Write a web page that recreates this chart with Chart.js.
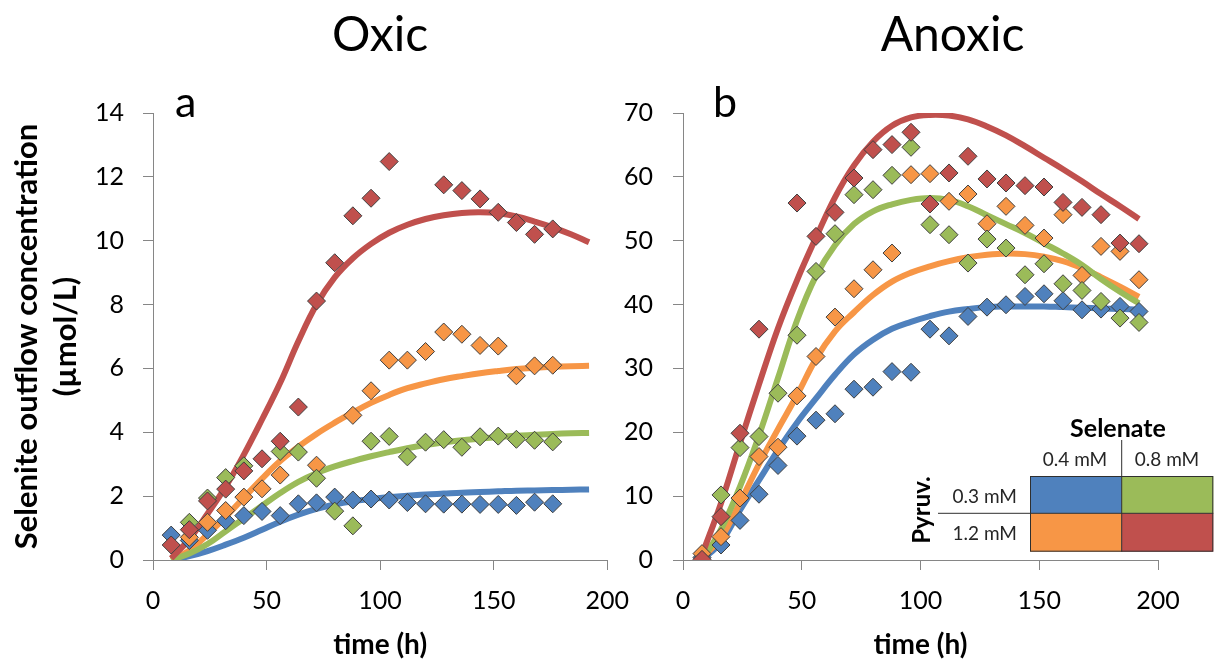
<!DOCTYPE html>
<html>
<head>
<meta charset="utf-8">
<script src="https://cdn.jsdelivr.net/npm/chart.js@4.4.0/dist/chart.umd.min.js"></script>
<style>
  body { margin: 0; background: #fff; width: 1217px; height: 660px; overflow: hidden; position: relative; }
  #oxic { position: absolute; left: 0; top: 0; }
  #anoxic { position: absolute; left: 600px; top: 0; }
</style>
</head>
<body>
<canvas id="oxic" width="645" height="660"></canvas>
<canvas id="anoxic" width="617" height="660"></canvas>
<script>
// sampling times (h)
const tOxic = [8, 16, 24, 32, 40, 48, 56, 64, 72, 80, 88, 96, 104, 112, 120, 128, 136, 144, 152, 160, 168, 176]
const tAnoxic = [8, 16, 24, 32, 40, 48, 56, 64, 72, 80, 88, 96, 104, 112, 120, 128, 136, 144, 152, 160, 168, 176, 184, 192]
const tFit = [8, 16, 24, 32, 40, 48, 56, 64, 72, 80, 88, 96, 104, 112, 120, 128, 136, 144, 152, 160, 168, 176, 184, 192]

// Oxic measurements (µmol/L)
const blueOx   = [0.78, 0.61, 0.93, 1.23, 1.39, 1.52, 1.39, 1.76, 1.79, 1.97, 1.88, 1.91, 1.88, 1.80, 1.76, 1.75, 1.75, 1.74, 1.74, 1.71, 1.81, 1.76]
const orangeOx = [null, 0.71, 1.18, 1.55, 1.97, 2.23, 2.66, null, 2.97, null, 4.53, 5.30, 6.26, 6.26, 6.53, 7.14, 7.07, 6.72, 6.70, 5.77, 6.08, 6.10]
const greenOx  = [null, 1.18, 1.94, 2.58, 2.95, null, 3.40, 3.38, 2.56, 1.53, 1.07, 3.72, 3.87, 3.23, 3.69, 3.77, 3.53, 3.86, 3.88, 3.78, 3.75, 3.70]
const redOx    = [0.47, 0.95, 1.85, 2.22, 2.79, 3.17, 3.72, 4.79, 8.11, 9.31, 10.78, 11.33, 12.48, null, null, 11.75, 11.57, 11.31, 10.89, 10.57, 10.20, 10.37]

// Oxic model curves
const blueFitOx   = [0, 0.12, 0.28, 0.48, 0.70, 0.95, 1.20, 1.42, 1.60, 1.74, 1.84, 1.91, 1.97, 2.01, 2.05, 2.08, 2.11, 2.13, 2.15, 2.17, 2.18, 2.19, 2.20, 2.21]
const greenFitOx  = [0, 0.20, 0.50, 0.90, 1.30, 1.70, 2.10, 2.45, 2.72, 2.93, 3.10, 3.25, 3.38, 3.50, 3.60, 3.68, 3.75, 3.80, 3.85, 3.89, 3.92, 3.95, 3.97, 3.98]
const orangeFitOx = [0, 0.30, 0.80, 1.35, 1.95, 2.55, 3.10, 3.55, 3.95, 4.30, 4.62, 4.92, 5.17, 5.38, 5.53, 5.66, 5.76, 5.85, 5.92, 5.98, 6.02, 6.05, 6.07, 6.08]
const redFitOx    = [0.05, 0.65, 1.45, 2.30, 3.30, 4.40, 5.55, 6.85, 8.00, 8.85, 9.45, 9.90, 10.25, 10.50, 10.68, 10.80, 10.87, 10.89, 10.86, 10.76, 10.60, 10.42, 10.20, 9.95]

// Anoxic measurements (µmol/L)
const blueAn   = [0.4, 2.35, 6.2, 10.3, 14.8, 19.4, 21.9, 22.9, 26.75, 27.06, 29.5, 29.4, 36.15, 35.1, 38.14, 39.6, 39.97, 41.27, 41.69, 40.6, 39.18, 39.29, 39.71, 38.92]
const greenAn  = [null, 10.19, 17.6, 19.33, 26.12, 35.2, 45.19, 51.1, 57.21, 57.99, 60.24, 64.63, 52.51, 50.94, 46.5, 50.26, 48.85, 44.67, 46.39, 43.26, 42.21, 40.49, 37.88, 37.2]
const orangeAn = [1.0, 3.66, 9.7, 16.2, 17.66, 25.7, 31.87, 38.04, 42.48, 45.45, 48.07, 60.34, 60.5, 56.17, 57.31, 52.66, 55.38, 52.4, 50.42, 54.08, 44.57, 49.11, 48.33, 43.89]
const redAn    = [0.1, 6.79, 19.85, 36.15, null, 55.9, 50.68, 54.44, 59.82, 64.26, 65.05, 66.98, 55.75, 60.61, 63.22, 59.67, 59.04, 58.62, 58.41, 56.0, 55.22, 54.08, 49.63, 49.53]

// Anoxic model curves
const blueFitAn   = [0, 2.8, 7.8, 12.5, 17.2, 21.5, 25.3, 29.0, 32.2, 34.5, 36.2, 37.3, 38.2, 38.9, 39.3, 39.6, 39.7, 39.7, 39.7, 39.6, 39.5, 39.4, 39.3, 39.2]
const greenFitAn  = [0, 4.8, 11.5, 19.5, 28.5, 37.5, 44.5, 49.3, 52.6, 54.6, 55.7, 56.4, 56.7, 56.4, 55.4, 54.0, 52.6, 51.2, 49.6, 48.0, 46.2, 44.0, 42.0, 40.2]
const orangeFitAn = [0.3, 3.5, 9.0, 15.0, 20.5, 25.8, 31.5, 35.8, 38.8, 41.5, 43.6, 45.0, 46.0, 46.8, 47.4, 47.8, 48.0, 47.9, 47.5, 46.8, 45.7, 44.3, 42.8, 41.2]
const redFitAn    = [0.8, 8.9, 18.3, 27.5, 36.3, 43.8, 50.5, 56.8, 61.8, 65.5, 68.0, 69.3, 69.7, 69.6, 69.0, 67.9, 66.5, 64.8, 63.0, 61.2, 59.3, 57.3, 55.4, 53.4]

// legend table
const selenateLevels = ['0.4 mM', '0.8 mM']
const pyruvLevels = ['0.3 mM', '1.2 mM']

const BLUE = '#4f81bd', ORANGE = '#f79646', GREEN = '#9bbb59', RED = '#c0504d'
const AXIS = '#868686'

Chart.defaults.font.family = 'Lato'
Chart.defaults.color = '#000'

const pts = (xs, ys) => xs.map((x, i) => ({ x: x, y: ys[i] })).filter(p => p.y !== null)

const diamonds = (xs, ys, color) => ({
  type: 'scatter',
  data: pts(xs, ys),
  pointStyle: 'rectRot',
  pointRadius: 9,
  pointHoverRadius: 9,
  backgroundColor: color,
  borderColor: '#3f3f3f',
  borderWidth: 1
})

const curve = (ys, color) => ({
  type: 'line',
  data: pts(tFit, ys),
  borderColor: color,
  borderWidth: 6,
  pointRadius: 0,
  tension: 0.4,
  fill: false
})

const panelLabels = {
  id: 'panelLabels',
  afterDraw(chart, args, opts) {
    const { ctx, chartArea } = chart
    ctx.save()
    ctx.fillStyle = '#000'
    ctx.textBaseline = 'alphabetic'
    ctx.font = '48px Lato'
    ctx.textAlign = 'center'
    ctx.fillText(opts.title, (chartArea.left + chartArea.right) / 2 + opts.titleShift, 51)
    ctx.font = '43px Lato'
    ctx.textAlign = 'left'
    ctx.fillText(opts.letter, chartArea.left + opts.letterX, 117)
    ctx.restore()
  }
}

const legendTable = {
  id: 'legendTable',
  afterDraw(chart) {
    const { ctx } = chart
    const x0 = 430, x1 = 521.7, x2 = 613.3
    const y0 = 476, y1 = 513.3, y2 = 551.7
    ctx.save()
    const cells = [[x0, y0, x1, y1, BLUE], [x1, y0, x2, y1, GREEN], [x0, y1, x1, y2, ORANGE], [x1, y1, x2, y2, RED]]
    cells.forEach(c => {
      ctx.fillStyle = c[4]
      ctx.fillRect(c[0], c[1], c[2] - c[0], c[3] - c[1])
    })
    ctx.strokeStyle = '#2f2f2f'
    ctx.lineWidth = 1
    ctx.strokeRect(x0 + 0.5, y0 + 0.5, x2 - x0 - 1, y2 - y0 - 1)
    ctx.beginPath()
    ctx.moveTo(x1, 440); ctx.lineTo(x1, y2)
    ctx.moveTo(338, y1); ctx.lineTo(x2, y1)
    ctx.stroke()

    ctx.fillStyle = '#000'
    ctx.textAlign = 'center'
    ctx.font = 'bold 25px Lato'
    ctx.fillText('Selenate', 518, 437)
    ctx.fillStyle = '#262626'
    ctx.font = '19px Lato'
    ctx.fillText(selenateLevels[0], 475, 466)
    ctx.fillText(selenateLevels[1], 567, 466)
    ctx.textAlign = 'right'
    ctx.fillText(pyruvLevels[0], 417, 503)
    ctx.fillText(pyruvLevels[1], 417, 540)

    ctx.translate(322, 510)
    ctx.rotate(-Math.PI / 2)
    ctx.textAlign = 'center'
    ctx.textBaseline = 'middle'
    ctx.fillStyle = '#000'
    ctx.font = 'bold 24px Lato'
    ctx.fillText('Pyruv.', 0, 0)
    ctx.restore()
  }
}

const buildChart = (id, o) => {
  return new Chart(document.getElementById(id), {
    type: 'scatter',
    data: {
      datasets: [
        diamonds(o.t, o.red, RED),
        diamonds(o.t, o.green, GREEN),
        diamonds(o.t, o.orange, ORANGE),
        diamonds(o.t, o.blue, BLUE),
        curve(o.redFit, RED),
        curve(o.greenFit, GREEN),
        curve(o.orangeFit, ORANGE),
        curve(o.blueFit, BLUE)
      ]
    },
    options: {
      responsive: false,
      animation: false,
      layout: { padding: { top: 113, right: o.padRight, left: 0, bottom: 0 } },
      plugins: {
        legend: { display: false },
        tooltip: { enabled: false },
        panelLabels: { title: o.title, titleShift: o.titleShift, letter: o.letter, letterX: o.letterX }
      },
      scales: {
        x: {
          type: 'linear',
          min: 0,
          max: 200,
          ticks: { stepSize: 50, color: '#000', font: { size: 25 }, padding: 16, maxRotation: 0 },
          grid: { drawOnChartArea: false, tickLength: 10, color: AXIS },
          border: { color: AXIS },
          title: { display: true, text: 'time (h)', color: '#000', font: { size: 28, weight: 'bold', lineHeight: 1.1 }, padding: 0 },
          afterFit: s => { s.height = 100 }
        },
        y: {
          min: 0,
          max: o.yMax,
          ticks: { stepSize: o.yStep, color: '#000', font: { size: 25 }, padding: o.yPad },
          grid: { drawOnChartArea: false, tickLength: 10, color: AXIS },
          border: { color: AXIS },
          title: o.yTitle,
          afterFit: s => { s.width = o.yWidth }
        }
      }
    },
    plugins: o.plugins
  })
}

buildChart('oxic', {
  t: tOxic, blue: blueOx, orange: orangeOx, green: greenOx, red: redOx,
  blueFit: blueFitOx, orangeFit: orangeFitOx, greenFit: greenFitOx, redFit: redFitOx,
  yMax: 14, yStep: 2, yWidth: 153, yPad: 19, padRight: 30,
  title: 'Oxic', titleShift: 0, letter: 'a', letterX: 22,
  yTitle: {
    display: true,
    text: ['Selenite outflow concentration', '(µmol/L)'],
    color: '#000',
    font: { size: 31, weight: 'bold', lineHeight: 1.26 },
    padding: { top: 7, bottom: 0 }
  },
  plugins: [panelLabels]
})

buildChart('anoxic', {
  t: tAnoxic, blue: blueAn, orange: orangeAn, green: greenAn, red: redAn,
  blueFit: blueFitAn, orangeFit: orangeFitAn, greenFit: greenFitAn, redFit: redFitAn,
  yMax: 70, yStep: 10, yWidth: 83, yPad: 20, padRight: 59,
  title: 'Anoxic', titleShift: 32, letter: 'b', letterX: 30,
  yTitle: { display: false },
  plugins: [panelLabels, legendTable]
})
</script>
</body>
</html>
